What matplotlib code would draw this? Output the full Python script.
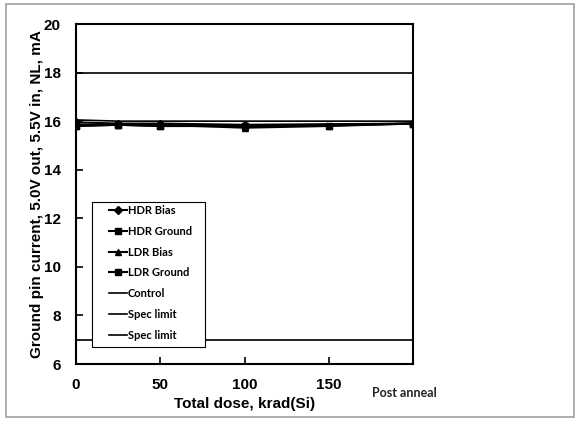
import matplotlib.pyplot as plt
from matplotlib.patches import Rectangle

# Total dose, krad(Si); 200 stands for "Post anneal"
dose_hdr = [0, 25, 50, 100, 200]
dose_ldr = [0, 25, 50, 100, 150, 200]
dose_ctrl = [0, 25, 50, 100, 150, 200]

hdr_bias = [15.95, 15.9, 15.9, 15.85, 15.9]
hdr_ground = [15.8, 15.85, 15.8, 15.8, 15.9]
ldr_bias = [15.85, 15.85, 15.85, 15.73, 15.8, 15.9]
ldr_ground = [15.8, 15.85, 15.8, 15.8, 15.82, 15.9]
control = [16.05, 16.0, 16.0, 16.0, 16.0, 16.0]
spec_upper = 18
spec_lower = 7

xticks = [0, 50, 100, 150]
yticks = [6, 8, 10, 12, 14, 16, 18, 20]

fig = plt.figure(figsize=(5.79, 4.21), dpi=100)
fig.patches.append(Rectangle((6 / 579, 4 / 421), 568 / 579, 413 / 421, transform=fig.transFigure,
                             fill=False, edgecolor='#a0a0a0', linewidth=1.2))
ax = fig.add_axes([76 / 579, 1 - 364 / 421, 337 / 579, 340 / 421])

ax.plot(dose_hdr, hdr_bias, marker='D', markersize=4, color='black', lw=1.5, label='HDR Bias')
ax.plot(dose_hdr, hdr_ground, marker='s', markersize=5, color='black', lw=1.5, label='HDR Ground')
ax.plot(dose_ldr, ldr_bias, marker='^', markersize=5, color='black', lw=1.5, label='LDR Bias')
ax.plot(dose_ldr, ldr_ground, marker='s', markersize=5, color='black', lw=1.5, label='LDR Ground')
ax.plot(dose_ctrl, control, color='black', lw=1.2, label='Control')
ax.plot([0, 200], [spec_upper, spec_upper], color='black', lw=1.2, label='Spec limit')
ax.plot([0, 200], [spec_lower, spec_lower], color='black', lw=1.2, label='Spec limit')

ax.set_xlim(0, 200)
ax.set_ylim(6, 20)
ax.set_xticks(xticks + [200])
ax.set_xticklabels([str(t) for t in xticks] + [''])
ax.set_yticks(yticks)
ax.tick_params(direction='in', length=5, width=1.2, labelsize=11)
ax.tick_params(axis='x', pad=10)
ax.tick_params(axis='y', pad=11)
for lab in ax.get_xticklabels() + ax.get_yticklabels():
    lab.set_fontweight('bold')
    lab.set_family('Liberation Sans')
for s in ax.spines.values():
    s.set_linewidth(1.5)

# "Post anneal" label under the last tick
ax.annotate('Post anneal', xy=(200, 6), xytext=(-6, -21), textcoords='offset points',
            ha='center', va='center', fontsize=9, fontweight='bold', family='Lato', color='#222222')

ax.set_xlabel('Total dose, krad(Si)', fontsize=11, fontweight='bold', family='Liberation Sans', labelpad=3.5)
ax.set_ylabel('Ground pin current, 5.0V out, 5.5V in, NL, mA', fontsize=11, fontweight='bold',
              family='Liberation Sans', labelpad=0)

# legend box drawn by hand so it can have wide side padding
ax.add_patch(Rectangle(((92 - 76) / 337, (364 - 347) / 340), 113 / 337, 145 / 340, transform=ax.transAxes,
                       facecolor='white', edgecolor='black', linewidth=0.8, zorder=4))
leg = ax.legend(loc='upper left', bbox_to_anchor=((109 - 76) / 337, (364 - 205) / 340), frameon=False,
                handlelength=1.6, handletextpad=0.1, labelspacing=0.88, borderpad=0, borderaxespad=0,
                prop={'family': 'Lato', 'weight': 'bold', 'size': 8})
leg.set_zorder(5)

plt.savefig('out.png', dpi=100)
